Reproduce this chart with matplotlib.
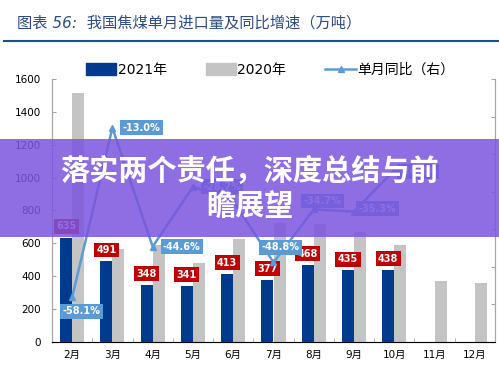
import matplotlib
matplotlib.use('Agg')
import matplotlib.pyplot as plt
from matplotlib.patches import Rectangle, Patch
from matplotlib.lines import Line2D
import numpy as np

plt.rcParams['font.family'] = ['DejaVu Sans', 'Noto Sans CJK SC']

months = ['2月', '3月', '4月', '5月', '6月', '7月', '8月', '9月', '10月', '11月', '12月']
imports_2021 = [635, 491, 348, 341, 413, 377, 468, 435, 438, None, None]
imports_2020 = [1515, 566, 590, 480, 627, 722, 716, 670, 590, 370, 360]
yoy = [-58.1, -13.0, -44.6, -28.7, -32.5, -48.8, -34.7, -35.3, -24.2]
yoy_labels = ['-58.1%', '-13.0%', '-44.6%', '-28.7%', None, '-48.8%', '-34.7%', '-35.3%', '-24.2%']
# label offsets (points) for the yoy boxes
yoy_offsets = [(6.5, -10), (21, 0), (21, 0), (21, 0), None, (5, 11), (6.5, 6), (17, 2), (17, -1)]

title = '图表 56:  我国焦煤单月进口量及同比增速（万吨）'
banner = '落实两个责任，深度总结与前\n瞻展望'

blue = '#003A8C'
gray = '#C4C4C4'
line_c = '#5B9BD5'
red = '#C00000'
axis_c = '#A6A6A6'

fig = plt.figure(figsize=(4.99, 3.76), dpi=100)
ax = fig.add_axes([52 / 499, 34 / 376, 443 / 499, 263 / 376])

x = np.arange(len(months))
w = 0.3
vals21 = [v if v is not None else 0 for v in imports_2021]
ax.bar(x - w / 2, vals21, w, color=blue, zorder=2)
ax.bar(x + w / 2, imports_2020, w, color=gray, zorder=2)

for i, v in enumerate(imports_2021):
    if v is None:
        continue
    ax.annotate(str(v), (x[i] - w / 2, v), xytext=(0, 4.5), textcoords='offset points',
                ha='center', va='bottom', fontsize=7, fontweight='bold', color='white',
                bbox=dict(boxstyle='square,pad=0.25', fc=red, ec='none'), zorder=5)

ax.set_xlim(-0.5, len(months) - 0.5)
ax.set_ylim(0, 1600)
ax.set_yticks(range(0, 1601, 200))
ax.set_xticks(x)
ax.set_xticklabels(months, fontsize=7.5)
ax.set_xticks(np.arange(-0.5, len(months), 1), minor=True)
ax.tick_params(axis='x', which='major', length=0, pad=6)
ax.tick_params(axis='x', which='minor', direction='in', length=3, color=axis_c)
ax.tick_params(axis='y', direction='in', length=3, color=axis_c, labelsize=7.5, pad=8)
ax.spines['top'].set_visible(False)
for s in ['left', 'bottom', 'right']:
    ax.spines[s].set_color(axis_c)

ax2 = ax.twinx()
ax2.set_ylim(-70, 0)
ax2.set_yticks(range(-70, 1, 10))
ax2.tick_params(axis='y', direction='in', length=3, color=axis_c, labelright=False)
ax2.spines['top'].set_visible(False)
ax2.spines['right'].set_color(axis_c)
ax2.spines['left'].set_color(axis_c)
ax2.plot(x[:len(yoy)], yoy, color=line_c, lw=1.8, marker='^', ms=5, zorder=4)
for i, lab in enumerate(yoy_labels):
    if lab is None:
        continue
    ax2.annotate(lab, (x[i], yoy[i]), xytext=yoy_offsets[i], textcoords='offset points',
                 ha='center', va='center', fontsize=7, fontweight='bold', color='white',
                 bbox=dict(boxstyle='square,pad=0.25', fc=line_c, ec='none'), zorder=5)

# title and rule
fig.text(17 / 499, 1 - 23 / 376, title, fontsize=11, style='italic', color='#2E4C85',
         ha='left', va='center')
fig.add_artist(Line2D([4 / 499, 1], [1 - 41 / 376] * 2, color='#1F4E8C', lw=1.5,
                      transform=fig.transFigure))

handles = [Patch(color=blue), Patch(color=gray),
           Line2D([], [], color=line_c, lw=1.8, marker='^', ms=5)]
fig.legend(handles, ['2021年', '2020年', '单月同比（右）'], loc='center',
           bbox_to_anchor=(270 / 499, 1 - 70 / 376), ncol=3, frameon=False,
           fontsize=10, handlelength=2.2, handleheight=0.9, columnspacing=2.8,
           handletextpad=0.1)

# banner overlay
fig.add_artist(Rectangle((0, 1 - 237 / 376), 1, 98 / 376, transform=fig.transFigure,
                         fc='#7B55DF', ec='none', alpha=0.85, zorder=10))
fig.text(0.5, 1 - 189 / 376, banner, fontsize=21, fontweight='bold', color='white',
         ha='center', va='center', multialignment='center', linespacing=1.3, zorder=11)

fig.savefig('out.png', dpi=100)
